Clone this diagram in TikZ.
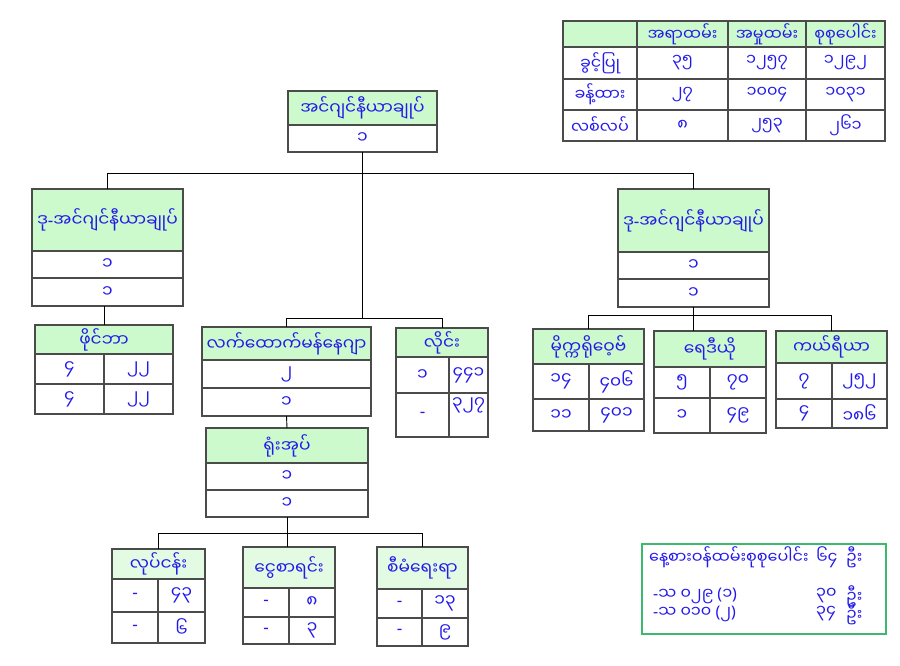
\documentclass[tikz,border=0pt]{standalone}
\usepackage{fontspec}
\newfontfamily\mmfont[Script=Myanmar]{Noto Sans Myanmar UI}
\newfontfamily\latn{Noto Sans}
\definecolor{txt}{RGB}{35,25,235}
\definecolor{bd}{RGB}{75,75,75}
\definecolor{hg}{RGB}{204,250,204}
\definecolor{hgl}{RGB}{226,251,226}
\definecolor{gb}{RGB}{60,185,110}
\tikzset{
  cellbase/.style={draw=bd, line width=1.4pt, inner sep=0pt, outer sep=0pt, rectangle, anchor=north west,
    font=\mmfont\fontsize{17}{19}\selectfont, text=txt},
  hdcell/.style={cellbase, fill=hg},
  hdcelll/.style={cellbase, fill=hgl},
  bcell/.style={cellbase, fill=white},
  tabcell/.style={bcell, font=\mmfont\fontsize{16}{18}\selectfont},
  tabhd/.style={hdcell, font=\mmfont\fontsize{16}{18}\selectfont},
  conn/.style={draw=black, line width=0.9pt},
  celltxt/.style={font=\mmfont\fontsize{17}{19}\selectfont, text=txt, inner sep=0pt},
  notetxt/.style={font=\mmfont\fontsize{16}{18}\selectfont, text=txt, inner sep=0pt, anchor=west}
}
\newcommand\cellbox[7]{\pgfmathsetmacro\cwd{#5-#3}\pgfmathsetmacro\cht{#6-#4}%
  \node[#1,minimum width=\cwd pt,minimum height=\cht pt] (#2) at (#3,#4) {#7};}
\newcommand\dsh{{\latn -}}
\newcommand\lp{{\latn (}}
\newcommand\rp{{\latn )}}
\begin{document}
\begin{tikzpicture}[x=1pt,y=-1pt]
\fill[white] (0,0) rectangle (900,665);
\useasboundingbox (0,0) rectangle (900,665);

% ---- summary table
\cellbox{tabhd}{tH0}{563}{21}{637}{47}{}
\cellbox{tabhd}{tH1}{637}{21}{728}{47}{အရာထမ်း}
\cellbox{tabhd}{tH2}{728}{21}{806}{47}{အမှုထမ်း}
\cellbox{tabhd}{tH3}{806}{21}{885}{47}{စုစုပေါင်း}
\cellbox{tabcell}{tR1}{563}{47}{637}{79}{ခွင့်ပြု}
\cellbox{tabcell}{tR1a}{637}{47}{728}{79}{၃၅}
\cellbox{tabcell}{tR1b}{728}{47}{806}{79}{၁၂၅၇}
\cellbox{tabcell}{tR1c}{806}{47}{885}{79}{၁၂၉၂}
\cellbox{tabcell}{tR2}{563}{79}{637}{110}{ခန့်ထား}
\cellbox{tabcell}{tR2a}{637}{79}{728}{110}{၂၇}
\cellbox{tabcell}{tR2b}{728}{79}{806}{110}{၁၀၀၄}
\cellbox{tabcell}{tR2c}{806}{79}{885}{110}{၁၀၃၁}
\cellbox{tabcell}{tR3}{563}{110}{637}{141}{လစ်လပ်}
\cellbox{tabcell}{tR3a}{637}{110}{728}{141}{၈}
\cellbox{tabcell}{tR3b}{728}{110}{806}{141}{၂၅၃}
\cellbox{tabcell}{tR3c}{806}{110}{885}{141}{၂၆၁}

% ---- chief
\cellbox{hdcell}{topH}{288}{91}{437}{125}{အင်ဂျင်နီယာချုပ်}
\cellbox{bcell}{topB}{288}{125}{437}{152}{၁}

% ---- left deputy
\cellbox{hdcell}{ldH}{32}{189}{183}{251}{ဒု\dsh အင်ဂျင်နီယာချုပ်}
\cellbox{bcell}{ldA}{32}{251}{183}{278}{၁}
\cellbox{bcell}{ldB}{32}{278}{183}{306}{၁}

% ---- fiber
\cellbox{hdcell}{fbH}{35}{325}{173}{354}{ဖိုင်ဘာ}
\cellbox{bcell}{fbA1}{35}{354}{104}{384}{၄}
\cellbox{bcell}{fbA2}{104}{354}{173}{384}{၂၂}
\cellbox{bcell}{fbB1}{35}{384}{104}{414}{၄}
\cellbox{bcell}{fbB2}{104}{384}{173}{414}{၂၂}

% ---- assistant manager
\cellbox{hdcell}{laH}{202}{327}{371}{360}{လက်ထောက်မန်နေဂျာ}
\cellbox{bcell}{laA}{202}{360}{371}{388}{၂}
\cellbox{bcell}{laB}{202}{388}{371}{416}{၁}

% ---- office head
\cellbox{hdcell}{ofH}{206}{428}{368}{463}{ရုံးအုပ်}
\cellbox{bcell}{ofA}{206}{463}{368}{490}{၁}
\cellbox{bcell}{ofB}{206}{490}{368}{517}{၁}

% ---- line
\cellbox{hdcell}{liH}{396}{328}{488}{357}{လိုင်း}
\cellbox{bcell}{liA1}{396}{357}{449}{393}{၁}
\cellbox{bcell}{liA2}{449}{357}{488}{393}{၄၄၁}
\cellbox{bcell}{liB1}{396}{393}{449}{437}{\dsh}
\cellbox{bcell}{liB2}{449}{393}{488}{437}{}
\node[celltxt] (liB2t) at (468.5,405) {၃၂၇};

% ---- right deputy
\cellbox{hdcell}{rdH}{618}{189}{769}{252}{ဒု\dsh အင်ဂျင်နီယာချုပ်}
\cellbox{bcell}{rdA}{618}{252}{769}{279}{၁}
\cellbox{bcell}{rdB}{618}{279}{769}{307}{၁}

% ---- microwave
\cellbox{hdcell}{mwH}{533}{329}{644}{364}{မိုက္ကရိုဝေ့ဗ်}
\cellbox{bcell}{mwA1}{533}{364}{589}{399}{၁၄}
\cellbox{bcell}{mwA2}{589}{364}{644}{399}{၄၀၆}
\cellbox{bcell}{mwB1}{533}{399}{589}{431}{၁၁}
\cellbox{bcell}{mwB2}{589}{399}{644}{431}{၄၀၁}

% ---- radio
\cellbox{hdcell}{raH}{654}{331}{766}{367}{ရေဒီယို}
\cellbox{bcell}{raA1}{654}{367}{710}{398}{၅}
\cellbox{bcell}{raA2}{710}{367}{766}{398}{၇၀}
\cellbox{bcell}{raB1}{654}{398}{710}{433}{၁}
\cellbox{bcell}{raB2}{710}{398}{766}{433}{၄၉}

% ---- carrier
\cellbox{hdcell}{caH}{776}{331}{887}{363}{ကယ်ရီယာ}
\cellbox{bcell}{caA1}{776}{363}{832}{399}{၇}
\cellbox{bcell}{caA2}{832}{363}{887}{399}{၂၅၂}
\cellbox{bcell}{caB1}{776}{399}{832}{428}{၄}
\cellbox{bcell}{caB2}{832}{399}{887}{428}{၁၈၆}

% ---- works
\cellbox{hdcelll}{wkH}{112}{549}{205}{579}{လုပ်ငန်း}
\cellbox{bcell}{wkA1}{112}{579}{158}{612}{\dsh}
\cellbox{bcell}{wkA2}{158}{579}{205}{612}{၄၃}
\cellbox{bcell}{wkB1}{112}{612}{158}{643}{\dsh}
\cellbox{bcell}{wkB2}{158}{612}{205}{643}{၆}

% ---- accounts
\cellbox{hdcelll}{mnH}{243}{547}{335}{588}{ငွေစာရင်း}
\cellbox{bcell}{mnA1}{243}{588}{289}{617}{\dsh}
\cellbox{bcell}{mnA2}{289}{588}{335}{617}{၈}
\cellbox{bcell}{mnB1}{243}{617}{289}{644}{\dsh}
\cellbox{bcell}{mnB2}{289}{617}{335}{644}{၃}

% ---- administration
\cellbox{hdcelll}{adH}{377}{547}{468}{589}{စီမံရေးရာ}
\cellbox{bcell}{adA1}{377}{589}{422}{618}{\dsh}
\cellbox{bcell}{adA2}{422}{589}{468}{618}{၁၃}
\cellbox{bcell}{adB1}{377}{618}{422}{646}{\dsh}
\cellbox{bcell}{adB2}{422}{618}{468}{646}{၉}

% ---- connectors
\coordinate (bar1) at (0,173);
\coordinate (bar2) at (0,318);
\coordinate (bar3) at (0,315);
\coordinate (bar4) at (0,533);
\draw[conn] (ldH.north) -- (ldH.north |- bar1) -- (rdH.north |- bar1) -- (rdH.north);
\draw[conn] (topB.south) -- (topB.south |- bar2);
\draw[conn] (laH.north) -- (laH.north |- bar2) -- (liH.north |- bar2) -- (liH.north);
\draw[conn] (fbH.north) -- (fbH.north |- ldB.south);
\draw[conn] (laB.south) -- (ofH.north);
\draw[conn] (rdB.south) -- (rdB.south |- raH.north);
\draw[conn] (mwH.north) -- (mwH.north |- bar3) -- (caH.north |- bar3) -- (caH.north);
\draw[conn] (ofB.south) -- (ofB.south |- mnH.north);
\draw[conn] (wkH.north) -- (wkH.north |- bar4) -- (adH.north |- bar4) -- (adH.north);

% ---- note box
\node[draw=gb, line width=1.5pt, fill=white, rectangle, anchor=north west, minimum width=244pt, minimum height=90pt, inner sep=0pt] (note) at (641,543) {};
\node[notetxt] (n1a) at (649,557) {နေ့စားဝန်ထမ်းစုစုပေါင်း};
\node[notetxt] (n1b) at (816,557) {၆၄};
\node[notetxt] (n1c) at (846,557) {ဦး};
\node[notetxt] (n2a) at (653,596) {\dsh သ ၀၂၉ \lp ၁\rp};
\node[notetxt] (n2b) at (816,596) {၃၀};
\node[notetxt] (n2c) at (846,596) {ဦး};
\node[notetxt] (n3a) at (653,614) {\dsh သ ၀၁၀ \lp ၂\rp};
\node[notetxt] (n3b) at (816,614) {၃၄};
\node[notetxt] (n3c) at (846,614) {ဦး};
\end{tikzpicture}
\end{document}
